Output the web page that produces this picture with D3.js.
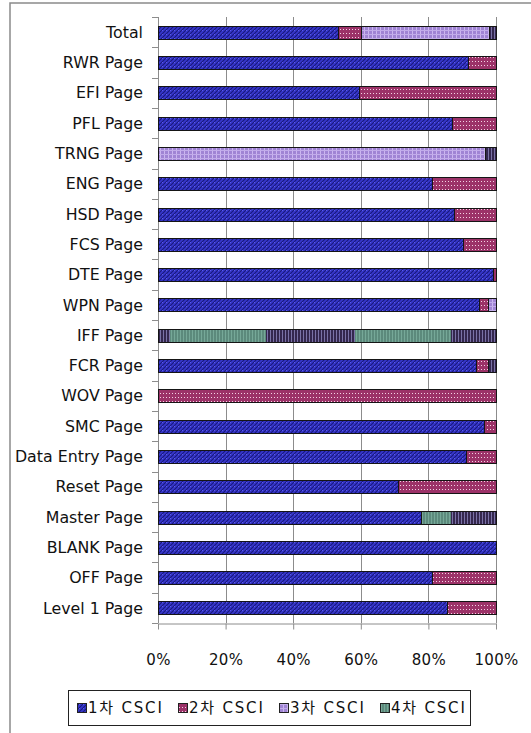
<!DOCTYPE html>
<html>
<head>
<meta charset="utf-8">
<script src="https://cdn.jsdelivr.net/npm/d3@7"></script>
<style>
  html, body { margin: 0; padding: 0; background: #fff; }
  svg { display: block; }
  .cat-label { font-family: "DejaVu Sans", sans-serif; font-size: 15.8px; fill: #111; }
  .tick text { font-family: "DejaVu Sans", sans-serif; font-size: 15px; fill: #111; letter-spacing: 0.3px; }
  .legend-label { font-family: "DejaVu Sans", "Noto Sans CJK KR", sans-serif; font-size: 15px; fill: #111; letter-spacing: 1.8px; }
</style>
</head>
<body>
<div id="chart"></div>
<script>
// categories top to bottom
const categories = ['Total', 'RWR Page', 'EFI Page', 'PFL Page', 'TRNG Page', 'ENG Page', 'HSD Page',
  'FCS Page', 'DTE Page', 'WPN Page', 'IFF Page', 'FCR Page', 'WOV Page', 'SMC Page',
  'Data Entry Page', 'Reset Page', 'Master Page', 'BLANK Page', 'OFF Page', 'Level 1 Page'];

const seriesNames = ['1차 CSCI', '2차 CSCI', '3차 CSCI', '4차 CSCI'];

// percent shares
const csci1 = [53.4, 91.8, 59.6, 86.9, 0, 81.2, 87.6, 90.2, 99.0, 95.0, 0, 94.0, 0, 96.5, 91.0, 70.9, 77.8, 100, 81.2, 85.6];
const csci2 = [6.7, 8.2, 40.4, 13.1, 0, 18.8, 12.4, 9.8, 1.0, 2.5, 0, 3.7, 100, 3.5, 9.0, 29.1, 0, 0, 18.8, 14.4];
const csci3 = [37.9, 0, 0, 0, 96.8, 0, 0, 0, 0, 2.5, 0, 0, 0, 0, 0, 0, 0, 0, 0, 0];
const csci4 = [2.0, 0, 0, 0, 3.2, 0, 0, 0, 0, 0, 100, 2.3, 0, 0, 0, 0, 22.2, 0, 0, 0];

const xTicks = [0, 0.2, 0.4, 0.6, 0.8, 1.0];

const W = 531, H = 733;
const PLOT = { left: 158, right: 496, top: 17, bottom: 623 };

const rows = categories.map((c, i) => ({
  cat: c, s0: csci1[i], s1: csci2[i], s2: csci3[i], s3: csci4[i]
}));
const keys = ['s0', 's1', 's2', 's3'];

const svg = d3.select('#chart').append('svg')
  .attr('width', W).attr('height', H);

// ---- fill patterns (mimic old Excel pattern fills)
const defs = svg.append('defs');

// 1: blue with dark diagonal hatch
const p1 = defs.append('pattern').attr('id', 'pat0').attr('patternUnits', 'userSpaceOnUse')
  .attr('width', 4).attr('height', 4);
p1.append('rect').attr('width', 4).attr('height', 4).attr('fill', '#3737cc');
p1.append('path').attr('d', 'M-1,1 L1,-1 M0,4 L4,0 M3,5 L5,3').attr('stroke', '#17177c').attr('stroke-width', 1.1);
p1.append('rect').attr('x', 2).attr('y', 2).attr('width', 1).attr('height', 1).attr('fill', '#5c5ce8');

// 2: maroon with light dots
const p2 = defs.append('pattern').attr('id', 'pat1').attr('patternUnits', 'userSpaceOnUse')
  .attr('width', 3).attr('height', 4);
p2.append('rect').attr('width', 3).attr('height', 4).attr('fill', '#9c3268');
p2.append('rect').attr('x', 1).attr('y', 1).attr('width', 1).attr('height', 1).attr('fill', '#f3d2e3');

// 3: lavender with light grid
const p3 = defs.append('pattern').attr('id', 'pat2').attr('patternUnits', 'userSpaceOnUse')
  .attr('width', 4).attr('height', 4);
p3.append('rect').attr('width', 4).attr('height', 4).attr('fill', '#a084d4');
p3.append('rect').attr('x', 0).attr('y', 0).attr('width', 1).attr('height', 4).attr('fill', '#cbb6ef');
p3.append('rect').attr('x', 0).attr('y', 2).attr('width', 4).attr('height', 1).attr('fill', '#c2acea');

// 4: vertical stripes; the downscaled picture shows a green / dark beat, reproduced here
const p4 = defs.append('pattern').attr('id', 'pat3').attr('patternUnits', 'userSpaceOnUse')
  .attr('x', 170).attr('y', 0).attr('width', 185).attr('height', 4);
p4.append('rect').attr('width', 96).attr('height', 4).attr('fill', '#5c8a7c');
p4.append('rect').attr('x', 96).attr('width', 89).attr('height', 4).attr('fill', '#34274e');
for (let sx = 1; sx < 96; sx += 3) {
  p4.append('rect').attr('x', sx).attr('width', 1).attr('height', 4).attr('fill', '#76a898');
}
for (let sx = 97; sx < 185; sx += 3) {
  p4.append('rect').attr('x', sx).attr('width', 1).attr('height', 4).attr('fill', '#7a72a6');
}

// ---- outer frame (chart area border, extends past the crop)
svg.append('rect')
  .attr('x', 10).attr('y', 3).attr('width', 800).attr('height', 900)
  .attr('fill', 'none').attr('stroke', '#8a8a8a').attr('stroke-width', 1.5);

// ---- scales
const x = d3.scaleLinear().domain([0, 1]).range([PLOT.left, PLOT.right]);
const y = d3.scaleBand().domain(categories).range([PLOT.top, PLOT.bottom])
  .paddingInner(0.58).paddingOuter(0.29);

const stacked = d3.stack().keys(keys).offset(d3.stackOffsetExpand)(rows);

const g = svg.append('g');

// gridlines
g.append('g').selectAll('line')
  .data(xTicks.slice(1))
  .join('line')
    .attr('x1', d => Math.round(x(d)) + 0.5).attr('x2', d => Math.round(x(d)) + 0.5)
    .attr('y1', PLOT.top).attr('y2', PLOT.bottom)
    .attr('stroke', '#8c8c8c').attr('stroke-width', 1);

// left axis line + category boundary ticks
const step = y.step();
const bounds = d3.range(categories.length + 1).map(i => PLOT.top + i * step);
g.append('line')
  .attr('x1', PLOT.left + 0.5).attr('x2', PLOT.left + 0.5)
  .attr('y1', PLOT.top).attr('y2', PLOT.bottom)
  .attr('stroke', '#8c8c8c');
g.append('g').selectAll('line')
  .data(bounds)
  .join('line')
    .attr('x1', PLOT.left - 6).attr('x2', PLOT.left)
    .attr('y1', d => Math.round(d) + 0.5).attr('y2', d => Math.round(d) + 0.5)
    .attr('stroke', '#8c8c8c');

// bottom axis
g.append('g')
  .attr('transform', `translate(0,${PLOT.bottom + 0.5})`)
  .call(d3.axisBottom(x).tickValues(xTicks).tickFormat(d3.format('.0%')).tickSize(6).tickPadding(25).tickSizeOuter(0))
  .call(a => a.select('.domain').attr('stroke', '#8c8c8c'))
  .call(a => a.selectAll('.tick line').attr('stroke', '#8c8c8c'));

// bars
stacked.forEach((layer, li) => {
  g.append('g').selectAll('rect')
    .data(layer.filter(d => d[1] - d[0] > 0))
    .join('rect')
      .attr('x', d => Math.round(x(d[0])) + 0.5)
      .attr('y', d => Math.round(y(d.data.cat)) + 0.5)
      .attr('width', d => Math.max(0, Math.round(x(d[1])) - Math.round(x(d[0]))))
      .attr('height', Math.round(y.bandwidth()))
      .attr('fill', `url(#pat${li})`)
      .attr('stroke', '#151515')
      .attr('stroke-width', 1);
});

// category labels
g.append('g').selectAll('text')
  .data(categories)
  .join('text')
    .attr('class', 'cat-label')
    .attr('x', 143)
    .attr('y', d => y(d) + y.bandwidth() / 2)
    .attr('dy', '0.36em')
    .attr('text-anchor', 'end')
    .text(d => d);

// legend
const legend = svg.append('g').attr('transform', 'translate(68,690)');
legend.append('rect')
  .attr('x', 0.5).attr('y', 0.5).attr('width', 402).attr('height', 35)
  .attr('fill', '#fff').attr('stroke', '#222');
seriesNames.forEach((name, i) => {
  const item = legend.append('g').attr('transform', `translate(${9 + i * 101},0)`);
  item.append('rect')
    .attr('x', 0.5).attr('y', 13.5).attr('width', 9).attr('height', 9)
    .attr('fill', `url(#pat${i})`).attr('stroke', '#222');
  item.append('text')
    .attr('class', 'legend-label')
    .attr('x', 11).attr('y', 18).attr('dy', '0.36em')
    .text(name);
});
</script>
</body>
</html>
